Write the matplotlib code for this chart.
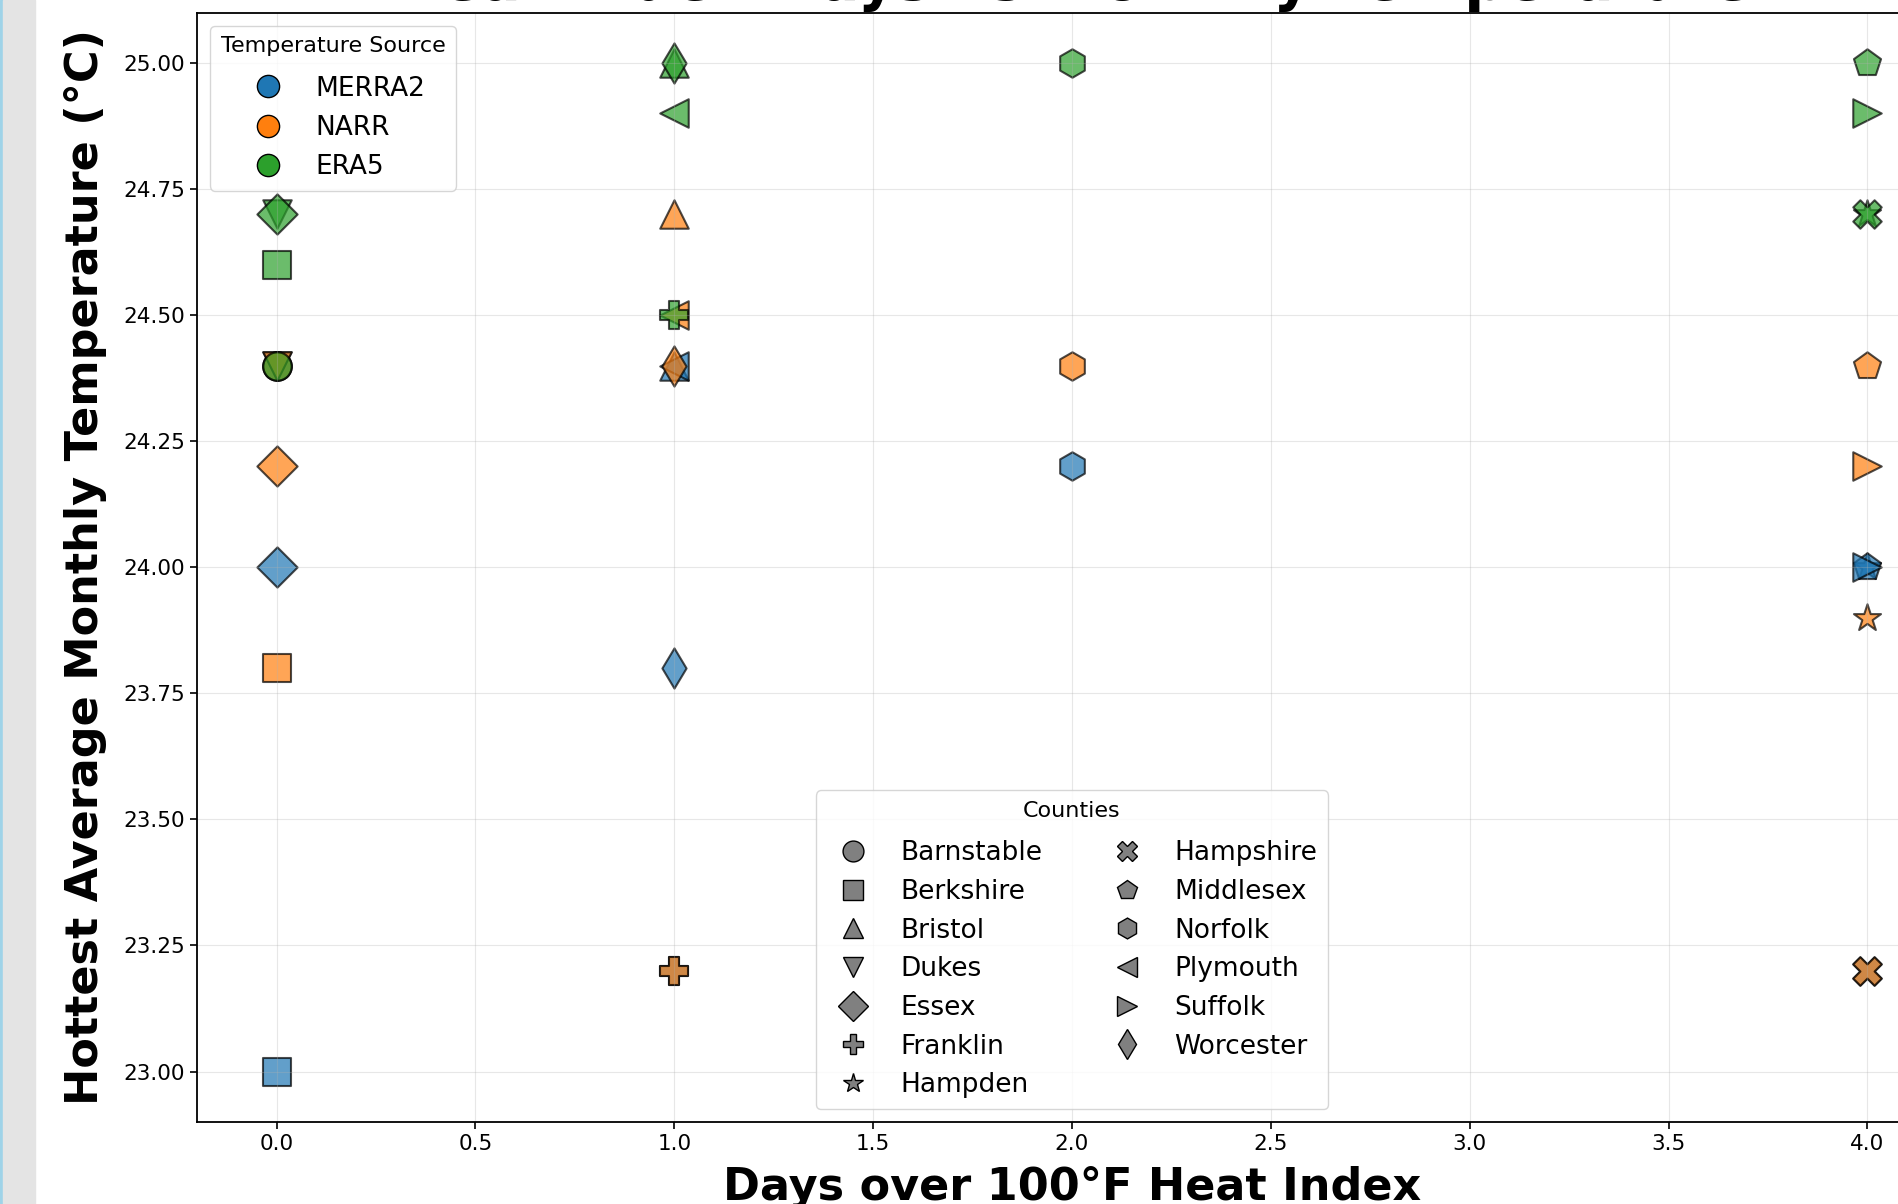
import matplotlib
matplotlib.use("Agg")
import matplotlib.pyplot as plt
from matplotlib.lines import Line2D
from matplotlib.patches import Rectangle

# counties, their marker and days over 100F heat index
counties = ['Barnstable', 'Berkshire', 'Bristol', 'Dukes', 'Essex', 'Franklin', 'Hampden',
            'Hampshire', 'Middlesex', 'Norfolk', 'Plymouth', 'Suffolk', 'Worcester']
county_markers = ['o', 's', '^', 'v', 'D', 'P', '*', 'X', 'p', 'h', '<', '>', 'd']
heat_days = [0, 0, 1, 0, 0, 1, 4, 4, 4, 2, 1, 4, 1]

# hottest average monthly temperature per source (deg C)
sources = ['MERRA2', 'NARR', 'ERA5']
source_colors = ['tab:blue', 'tab:orange', 'tab:green']
temp_merra2 = [24.4, 23.0, 24.4, 24.4, 24.0, 23.2, 24.0, 23.2, 24.0, 24.2, 24.4, 24.0, 23.8]
temp_narr = [24.4, 23.8, 24.7, 24.4, 24.2, 23.2, 23.9, 23.2, 24.4, 24.4, 24.5, 24.2, 24.4]
temp_era5 = [24.4, 24.6, 25.0, 24.7, 24.7, 24.5, 24.7, 24.7, 25.0, 25.0, 24.9, 24.9, 25.0]
temps = [temp_merra2, temp_narr, temp_era5]

fig = plt.figure(figsize=(18.99, 12.04), dpi=100)
# screenshot borders on the left
fig.patches.append(Rectangle((0, 0), 3 / 1899, 1, transform=fig.transFigure,
                             color='#9fd3e8', zorder=-1))
fig.patches.append(Rectangle((3 / 1899, 0), 32 / 1899, 1, transform=fig.transFigure,
                             color='#e4e4e4', zorder=-1))

ax = fig.add_axes([197 / 1899, 82 / 1204, 1750 / 1899, 1109.5 / 1204])

for src, col, t in zip(sources, source_colors, temps):
    for name, m, d, v in zip(counties, county_markers, heat_days, t):
        ax.scatter(d, v, marker=m, s=420, color=col, alpha=0.7,
                   edgecolors='black', linewidths=1.5)

ax.set_xlim(-0.2, 4.2)
ax.set_ylim(22.9, 25.1)
ax.set_xticks([0, 0.5, 1, 1.5, 2, 2.5, 3, 3.5, 4])
ax.set_yticks([23.0, 23.25, 23.5, 23.75, 24.0, 24.25, 24.5, 24.75, 25.0])
ax.yaxis.set_major_formatter(matplotlib.ticker.FormatStrFormatter('%.2f'))
ax.tick_params(labelsize=15.5, width=1.2, length=5)
ax.grid(True, alpha=0.3)
for sp in ax.spines.values():
    sp.set_linewidth(1.3)

ax.set_xlabel('Days over 100°F Heat Index', fontsize=32, fontweight='bold', labelpad=9)
ax.set_ylabel('Hottest Average Monthly Temperature (°C)', fontsize=32,
              fontweight='bold', labelpad=12)
ax.set_title('Heat Index Days vs Monthly Temperature', fontsize=42,
             fontweight='bold', pad=2)

src_handles = [Line2D([], [], marker='o', linestyle='', markersize=16,
                      markerfacecolor=c, markeredgecolor='black') for c in source_colors]
leg1 = ax.legend(src_handles, sources, title='Temperature Source', loc='upper left',
                 fontsize=19, title_fontsize=16, labelspacing=0.5)
leg1._legend_box.sep = 14
ax.add_artist(leg1)

cty_handles = [Line2D([], [], marker=m, linestyle='', markersize=15,
                      markerfacecolor='gray', markeredgecolor='black') for m in county_markers]
leg2 = ax.legend(cty_handles, counties, title='Counties', loc='lower center', ncol=2,
                 fontsize=19, title_fontsize=16, labelspacing=0.48, columnspacing=2.2)
leg2._legend_box.sep = 14

fig.savefig('out.png', dpi=100)
